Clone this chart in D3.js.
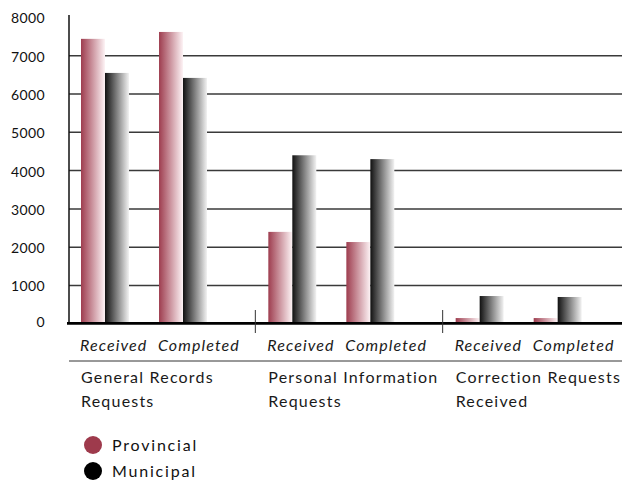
<!DOCTYPE html>
<html>
<head>
<meta charset="utf-8">
<script src="https://cdn.jsdelivr.net/npm/d3@7"></script>
<style>
  body { margin: 0; background: #fff; }
  svg { font-family: "Lato", "Open Sans", sans-serif; }
</style>
</head>
<body>
<div id="chart"></div>
<script>
var groups = ["General Records Requests", "Personal Information Requests", "Correction Requests Received"];
var groupLines = [["General Records", "Requests"], ["Personal Information", "Requests"], ["Correction Requests", "Received"]];
var subs = ["Received", "Completed"];
var series = ["Provincial", "Municipal"];
var provincial = [7440, 7620, 2400, 2135, 150, 150];
var municipal = [6550, 6420, 4400, 4300, 725, 700];
var yTicks = [0, 1000, 2000, 3000, 4000, 5000, 6000, 7000, 8000];

var width = 622, height = 480;
var left = 69, right = 631, zeroY = 323.8, topY = 17.4;

var rows = [];
groups.forEach(function(g, gi) {
	subs.forEach(function(s, si) {
		var i = gi * 2 + si;
		rows.push({ group: g, sub: s, Provincial: provincial[i], Municipal: municipal[i] });
	});
});

var svg = d3.select("#chart").append("svg")
	.attr("width", width)
	.attr("height", height);

var defs = svg.append("defs");
var gradProv = defs.append("linearGradient").attr("id", "gProv")
	.attr("x1", "0%").attr("x2", "100%").attr("y1", "0%").attr("y2", "0%");
gradProv.append("stop").attr("offset", "0%").attr("stop-color", "#9e3d4f");
gradProv.append("stop").attr("offset", "100%").attr("stop-color", "#fdf3f5");
var gradMun = defs.append("linearGradient").attr("id", "gMun")
	.attr("x1", "0%").attr("x2", "100%").attr("y1", "0%").attr("y2", "0%");
gradMun.append("stop").attr("offset", "0%").attr("stop-color", "#111");
gradMun.append("stop").attr("offset", "100%").attr("stop-color", "#f2f2f2");

var x0 = d3.scaleBand().domain(groups).range([left, right]);
var x1 = d3.scaleBand().domain(subs).range([12, 138]).paddingInner(0.385);
var x2 = d3.scaleBand().domain(series).range([0, x1.bandwidth()]);
var yScale = d3.scaleLinear().domain([0, 8000]).range([zeroY, topY]);

// gridlines
svg.append("g").selectAll("line")
	.data(yTicks.filter(function(d) { return d > 0 && d < 8000; }))
	.enter().append("line")
	.attr("x1", left).attr("x2", width)
	.attr("y1", function(d) { return yScale(d); })
	.attr("y2", function(d) { return yScale(d); })
	.attr("stroke", "#3a3a3a")
	.attr("stroke-width", 1.5);

// y tick labels
svg.append("g").selectAll("text")
	.data(yTicks)
	.enter().append("text")
	.attr("x", 45)
	.attr("y", function(d) { return yScale(d) + (d === 0 ? -2 : 1); })
	.attr("dy", "0.35em")
	.attr("text-anchor", "end")
	.attr("font-size", 14)
	.attr("letter-spacing", 0.4)
	.attr("fill", "#111")
	.text(function(d) { return d; });

// bars
var cat = svg.append("g").selectAll("g")
	.data(rows)
	.enter().append("g")
	.attr("transform", function(d) { return "translate(" + (x0(d.group) + x1(d.sub)) + ",0)"; });

cat.selectAll("rect")
	.data(function(d) { return series.map(function(s) { return { key: s, value: d[s] }; }); })
	.enter().append("rect")
	.attr("x", function(d) { return x2(d.key); })
	.attr("width", x2.bandwidth())
	.attr("y", function(d) { return yScale(d.value); })
	.attr("height", function(d) { return zeroY - yScale(d.value); })
	.attr("fill", function(d) { return d.key === "Provincial" ? "url(#gProv)" : "url(#gMun)"; });

// y axis line
svg.append("line")
	.attr("x1", left).attr("x2", left)
	.attr("y1", 15).attr("y2", zeroY)
	.attr("stroke", "#111").attr("stroke-width", 1.5);

// baseline
svg.append("line")
	.attr("x1", 67).attr("x2", width)
	.attr("y1", zeroY - 0.5).attr("y2", zeroY - 0.5)
	.attr("stroke", "#000").attr("stroke-width", 2.8);

// group separators
svg.append("g").selectAll("line")
	.data(groups.slice(1))
	.enter().append("line")
	.attr("x1", function(d) { return x0(d) - 1; })
	.attr("x2", function(d) { return x0(d) - 1; })
	.attr("y1", 310).attr("y2", 333)
	.attr("stroke", "#333").attr("stroke-width", 1);

// sub-category labels
svg.append("g").selectAll("text")
	.data(rows)
	.enter().append("text")
	.attr("x", function(d) { return x0(d.group) + x1(d.sub) - 1; })
	.attr("y", 351)
	.attr("font-size", 16)
	.attr("font-style", "italic")
	.attr("letter-spacing", 1.1)
	.attr("fill", "#1a1a1a")
	.text(function(d) { return d.sub; });

// separator line under sub labels
svg.append("line")
	.attr("x1", left).attr("x2", width)
	.attr("y1", 361).attr("y2", 361)
	.attr("stroke", "#333").attr("stroke-width", 1);

// group labels
var gl = svg.append("g").selectAll("text")
	.data(groups)
	.enter().append("text")
	.attr("x", function(d) { return x0(d) + 12; })
	.attr("y", 383)
	.attr("font-size", 16)
	.attr("letter-spacing", 1.2)
	.attr("fill", "#1a1a1a");
gl.selectAll("tspan")
	.data(function(d, i) { return groupLines[i]; })
	.enter().append("tspan")
	.attr("x", function() { return d3.select(this.parentNode).attr("x"); })
	.attr("dy", function(d, i) { return i === 0 ? 0 : 24; })
	.text(function(d) { return d; });

// legend
var legend = svg.append("g").selectAll("g")
	.data(series)
	.enter().append("g")
	.attr("transform", function(d, i) { return "translate(93," + (445 + i * 26) + ")"; });
legend.append("circle")
	.attr("r", 9)
	.attr("fill", function(d) { return d === "Provincial" ? "#9e3a4c" : "#000"; });
legend.append("text")
	.attr("x", 19)
	.attr("dy", "0.35em")
	.attr("font-size", 16)
	.attr("letter-spacing", 1.8)
	.attr("fill", "#111")
	.text(function(d) { return d; });
</script>
</body>
</html>
